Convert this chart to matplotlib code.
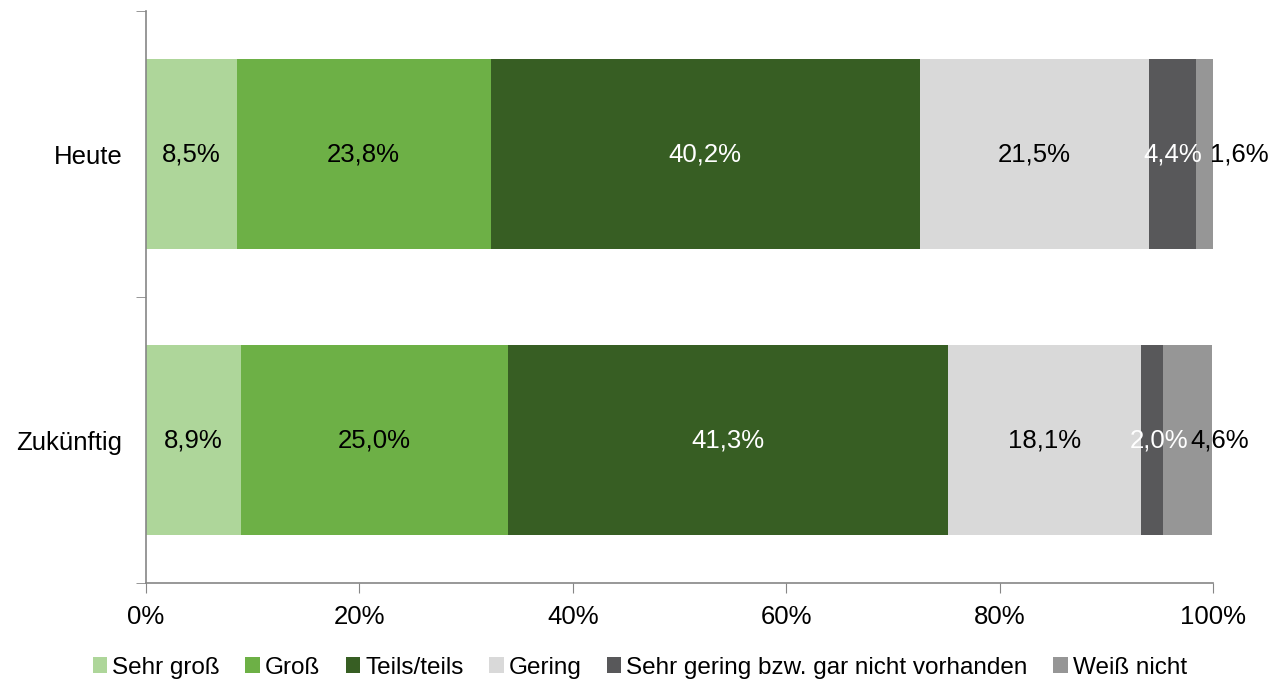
import matplotlib
matplotlib.use('Agg')
import matplotlib.pyplot as plt
import numpy as np

# answer categories (stacked left to right)
categories = ["Sehr groß", "Groß", "Teils/teils", "Gering",
              "Sehr gering bzw. gar nicht vorhanden", "Weiß nicht"]
rows = ["Heute", "Zukünftig"]
heute = [8.5, 23.8, 40.2, 21.5, 4.4, 1.6]
zukuenftig = [8.9, 25.0, 41.3, 18.1, 2.0, 4.6]

colors = ["#AED69A", "#6DB046", "#375E23", "#D9D9D9", "#58585A", "#969696"]
text_colors = ["black", "black", "white", "black", "white", "black"]
# small horizontal nudges (points) for labels on the narrow segments at the right end
nudge = {("Heute", 5): 25, ("Zukünftig", 4): 5, ("Zukünftig", 5): 23}

plt.rcParams['font.family'] = ['Liberation Sans', 'DejaVu Sans']
fs = 18.5

fig = plt.figure(figsize=(12.72, 6.8), dpi=100)
ax = fig.add_axes([0.1148, 0.1426, 0.8388, 0.8412])

data = np.array([heute, zukuenftig])
ypos = np.arange(len(rows))
left = np.zeros(len(rows))
for i, cat in enumerate(categories):
    vals = data[:, i]
    ax.barh(ypos, vals, left=left, height=0.667, color=colors[i], label=cat)
    for j, v in enumerate(vals):
        ax.annotate(f"{v:.1f}%".replace(".", ","), xy=(left[j] + v / 2, ypos[j]),
                    xytext=(nudge.get((rows[j], i), 0), 0), textcoords="offset points",
                    ha="center", va="center", fontsize=fs, color=text_colors[i])
    left += vals

ax.set_xlim(0, 100)
ax.set_ylim(1.5, -0.5)
ax.set_xticks(np.arange(0, 101, 20))
ax.set_xticklabels([f"{t}%" for t in range(0, 101, 20)], fontsize=fs)
ax.set_yticks(ypos)
ax.set_yticklabels(rows, fontsize=fs)
ax.set_yticks([-0.5, 0.5, 1.5], minor=True)
ax.tick_params(axis="y", which="major", length=0, pad=17)
ax.tick_params(axis="y", which="minor", length=7, color="#868686")
ax.tick_params(axis="x", length=7, color="#868686", pad=9)

for s in ["top", "right"]:
    ax.spines[s].set_visible(False)
for s in ["left", "bottom"]:
    ax.spines[s].set_color("#868686")
    ax.spines[s].set_linewidth(1.2)

fig.legend(loc="lower center", bbox_to_anchor=(0.503, -0.03), ncol=6, frameon=False,
           fontsize=17.5, handlelength=0.6, handleheight=0.6, handletextpad=0.2,
           columnspacing=1.05)

fig.savefig("out.png", dpi=100)
